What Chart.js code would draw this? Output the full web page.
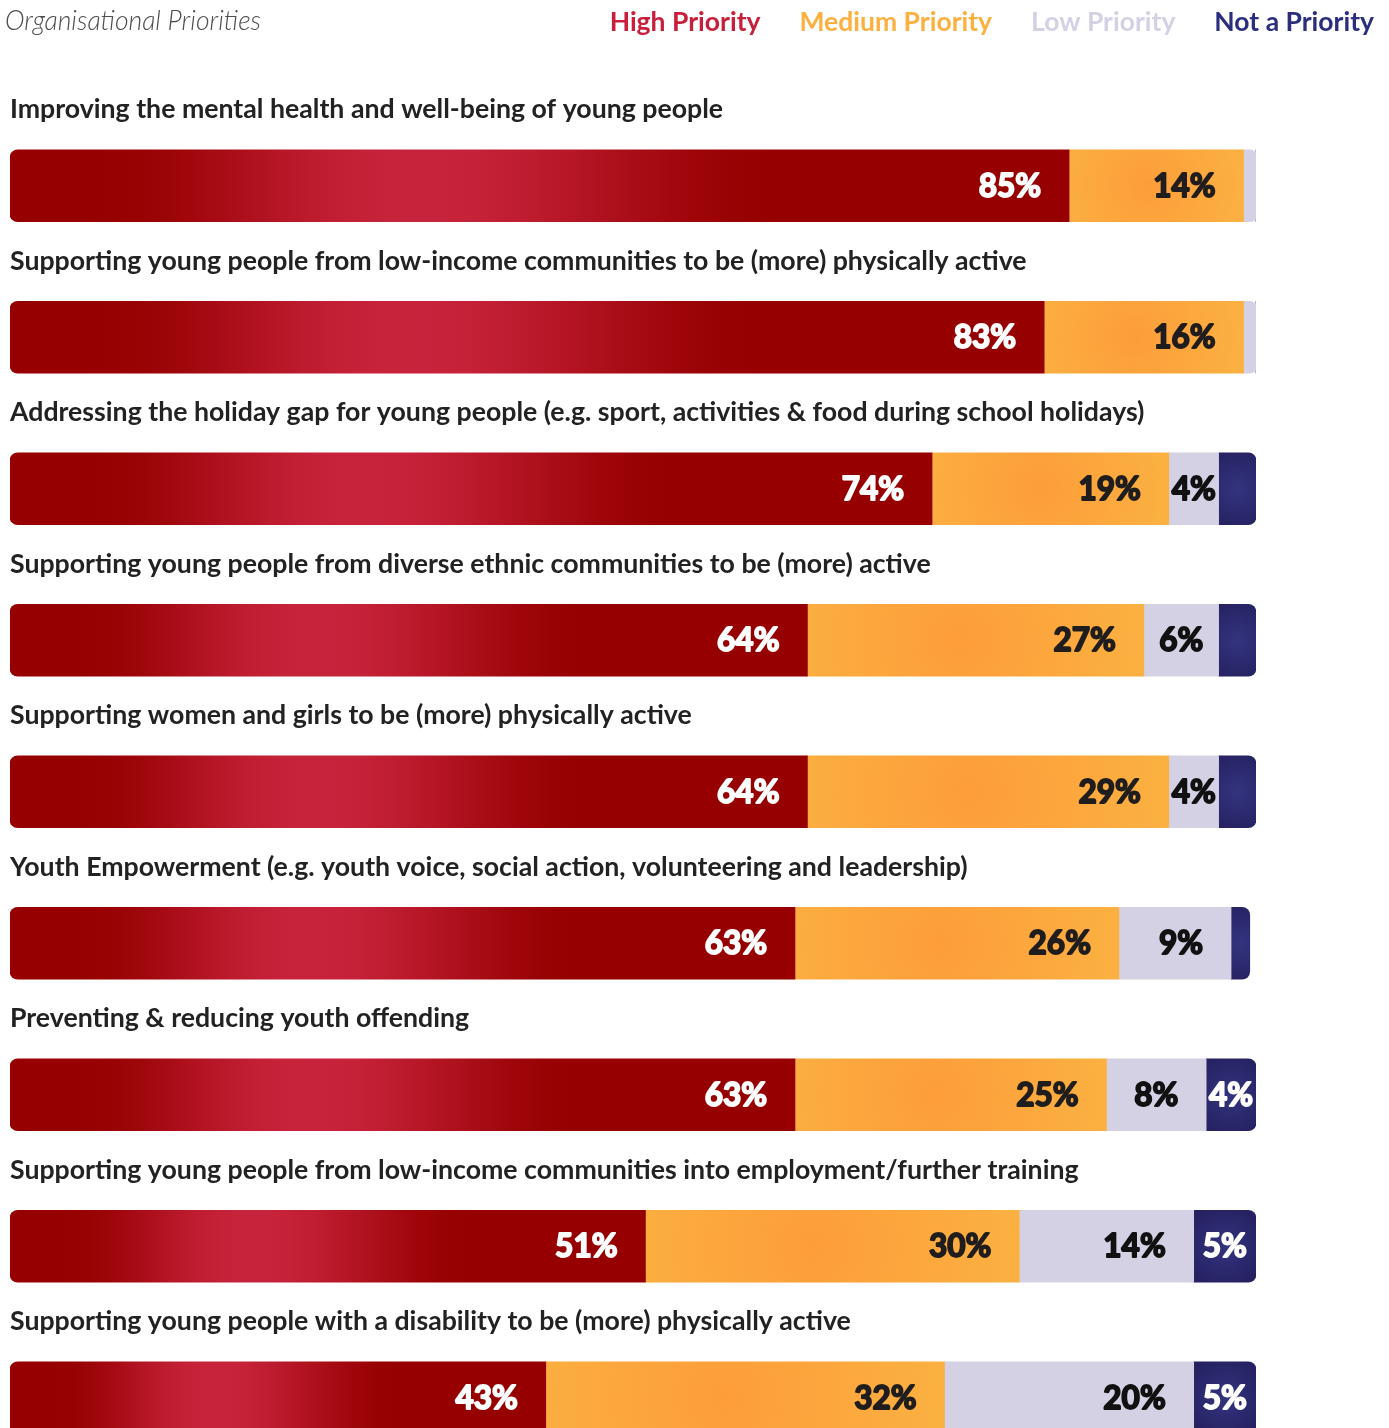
<!DOCTYPE html>
<html lang="en">
<head>
<meta charset="UTF-8">
<title>Organisational Priorities</title>
<style>
  body { margin: 0; background: #fff; overflow: hidden; }
  .wrap { position: relative; width: 1389px; height: 1480px; }
</style>
</head>
<body>
<div class="wrap"><canvas id="priorities" width="1389" height="1480"></canvas></div>
<script src="https://cdn.jsdelivr.net/npm/chart.js@4"></script>
<script>
const categories = [
  'Improving the mental health and well-being of young people',
  'Supporting young people from low-income communities to be (more) physically active',
  'Addressing the holiday gap for young people (e.g. sport, activities & food during school holidays)',
  'Supporting young people from diverse ethnic communities to be (more) active',
  'Supporting women and girls to be (more) physically active',
  'Youth Empowerment (e.g. youth voice, social action, volunteering and leadership)',
  'Preventing & reducing youth offending',
  'Supporting young people from low-income communities into employment/further training',
  'Supporting young people with a disability to be (more) physically active'
];
const high = [85, 83, 74, 64, 64, 63, 63, 51, 43];
const medium = [14, 16, 19, 27, 29, 26, 25, 30, 32];
const low = [1, 1, 4, 6, 4, 9, 8, 14, 20];
const notPriority = [0, 0, 3, 3, 3, 1.5, 4, 5, 5];
const seriesNames = ['High Priority', 'Medium Priority', 'Low Priority', 'Not a Priority'];
const legendColours = ['#c8203c', '#fbb040', '#d4d1e4', '#2b2e7c'];
const labelColours = ['#ffffff', '#1f1d1e', '#111111', '#ffffff'];
const chartTitle = 'Organisational Priorities';

const series = [high, medium, low, notPriority];

// each segment is a floating bar [start, end] so the ends can be rounded
function ranges(k) {
  return categories.map((_, i) => {
    let start = 0;
    for (let j = 0; j < k; j++) start += series[j][i];
    return [start, start + series[k][i]];
  });
}

function segmentPixels(chart, raw, index) {
  const xs = chart.scales.x, ys = chart.scales.y;
  return { x0: xs.getPixelForValue(raw[0]), x1: xs.getPixelForValue(raw[1]), yc: ys.getPixelForValue(index) };
}

// soft crimson glow on a dark red base
function redStops(g) {
  const dark = [150, 0, 0], bright = [200, 35, 60];
  for (let p = 0; p <= 1.0001; p += 0.04) {
    const d = Math.abs(p - 0.38) / (p < 0.38 ? 0.3 : 0.36);
    const f = d >= 1 ? 0 : (Math.cos(d * Math.PI) + 1) / 2;
    const rgb = dark.map((v, n) => Math.round(v + (bright[n] - v) * f));
    g.addColorStop(Math.min(1, p), `rgb(${rgb.join(',')})`);
  }
}

function fillFor(k) {
  return ctx => {
    const chart = ctx.chart;
    if (!chart.chartArea || ctx.type !== 'data' || !chart.scales.x) return legendColours[k];
    const { x0, x1, yc } = segmentPixels(chart, ctx.raw, ctx.dataIndex);
    const w = Math.max(1, x1 - x0);
    const c = chart.ctx;
    let g;
    if (k === 0) {
      g = c.createLinearGradient(x0, 0, x1, 0);
      redStops(g);
    } else if (k === 1) {
      g = c.createRadialGradient(x0 + w * 0.45, yc, 0, x0 + w * 0.45, yc, w * 0.55);
      g.addColorStop(0, '#fd9d3a');
      g.addColorStop(1, '#fbb141');
    } else if (k === 2) {
      return '#d4d1e4';
    } else {
      g = c.createRadialGradient(x0 + w / 2, yc, 0, x0 + w / 2, yc, 40);
      g.addColorStop(0, '#33347f');
      g.addColorStop(1, '#262262');
    }
    return g;
  };
}

function radiusFor(k) {
  return ctx => {
    const i = ctx.dataIndex;
    let last = 0;
    series.forEach((s, j) => { if (s[i] > 0) last = j; });
    const r = 8;
    return {
      topLeft: k === 0 ? r : 0,
      bottomLeft: k === 0 ? r : 0,
      topRight: k === last ? r : 0,
      bottomRight: k === last ? r : 0
    };
  };
}

// title, legend, category captions and value labels
const textPlugin = {
  id: 'priorityText',
  afterDatasetsDraw(chart) {
    const c = chart.ctx;
    const xs = chart.scales.x, ys = chart.scales.y;
    c.save();

    c.font = 'italic 300 26.5px Lato';
    c.fillStyle = '#4d4d4d';
    c.textAlign = 'left';
    c.textBaseline = 'alphabetic';
    c.fillText(chartTitle, 5, 30);

    c.font = 'bold 26.5px Lato';
    let x = 1374;
    for (let k = seriesNames.length - 1; k >= 0; k--) {
      const tw = c.measureText(seriesNames[k]).width;
      c.fillStyle = legendColours[k];
      c.fillText(seriesNames[k], x - tw, 31);
      x -= tw + 39;
    }

    c.font = 'bold 26.7px Lato';
    c.fillStyle = '#222222';
    categories.forEach((cat, i) => {
      c.fillText(cat, 10, ys.getPixelForValue(i) - 67.5);
    });

    // heavy figures: bold face thickened with a matching outline
    c.font = 'bold 31.5px Lato';
    c.lineJoin = 'round';
    c.lineWidth = 1.8;
    const pad = 28;
    series.forEach((s, k) => {
      s.forEach((v, i) => {
        if (!v) return;
        let start = 0;
        for (let j = 0; j < k; j++) start += series[j][i];
        const x0 = xs.getPixelForValue(start), x1 = xs.getPixelForValue(start + v);
        const w = x1 - x0;
        const text = v + '%';
        const tw = c.measureText(text).width;
        if (tw > w) return;
        const left = tw + 2 * pad > w ? x0 + (w - tw) / 2 : x1 - pad - tw;
        const y = ys.getPixelForValue(i) + 11;
        c.fillStyle = labelColours[k];
        c.strokeStyle = labelColours[k];
        c.strokeText(text, left, y);
        c.fillText(text, left, y);
      });
    });

    c.restore();
  }
};

new Chart(document.getElementById('priorities'), {
  type: 'bar',
  data: {
    labels: categories,
    datasets: series.map((s, k) => ({
      label: seriesNames[k],
      data: ranges(k),
      backgroundColor: fillFor(k),
      borderRadius: radiusFor(k),
      borderSkipped: false,
      borderWidth: 0,
      barThickness: 72,
      grouped: false
    }))
  },
  options: {
    indexAxis: 'y',
    responsive: false,
    animation: false,
    layout: { padding: { top: 110, left: 10, right: 133, bottom: 6.5 } },
    scales: {
      x: { display: false, min: 0, max: 100 },
      y: { display: false, offset: true }
    },
    plugins: {
      legend: { display: false },
      tooltip: { enabled: false }
    }
  },
  plugins: [textPlugin]
});
</script>
</body>
</html>
